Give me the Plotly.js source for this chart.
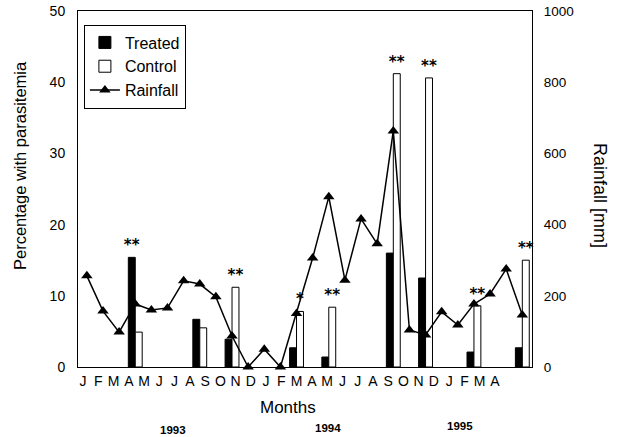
<!DOCTYPE html>
<html>
<head>
<meta charset="utf-8">
<script src="https://cdn.plot.ly/plotly-3.0.1.min.js"></script>
<style>html,body{margin:0;padding:0;background:#fff;}#chart{width:617px;height:437px;}</style>
</head>
<body>
<div id="chart"></div>
<script>
// Categories: months from Jan 1993 to Apr 1995
const periods = ['1993-01','1993-02','1993-03','1993-04','1993-05','1993-06','1993-07','1993-08','1993-09','1993-10','1993-11','1993-12',
                 '1994-01','1994-02','1994-03','1994-04','1994-05','1994-06','1994-07','1994-08','1994-09','1994-10','1994-11','1994-12',
                 '1995-01','1995-02','1995-03','1995-04'];
const monthLabels = ['J','F','M','A','M','J','J','A','S','O','N','D','J','F','M','A','M','J','J','A','S','O','N','D','J','F','M','A'];
const yearLabels = ['1993','1994','1995'];

// Percentage with parasitemia
const treated = [null,null,null,15.4,null,null,null,6.7,null,3.9,null,null,
                 null,2.7,null,1.4,null,null,null,16.0,null,12.5,null,null,
                 2.1,null,null,2.7];
const control = [null,null,null,4.9,null,null,null,5.5,null,11.2,null,null,
                 null,7.8,null,8.4,null,null,null,41.2,null,40.6,null,null,
                 8.6,null,null,15.0];
// Significance marks
const treatedMarks = ['','','','**','','','','','','','','', '','','','','','','','','','','','', '','','',''];
const controlMarks = ['','','','','','','','','','**','','', '','*','','**','','','','**','','**','','', '**','','','**'];
// Rainfall [mm]
const rainfall = [256,157,98,177,160,166,242,233,197,87,0,50,
                  0,150,306,478,244,416,346,663,104,90,155,118,
                  177,205,275,146];

const FONT = 'Liberation Sans, Arial, Helvetica, sans-serif';
const starFont = {family:'DejaVu Sans, Liberation Sans, sans-serif', size:15, weight:'bold', color:'#000000'};

const traces = [
  {type:'bar', name:'Treated', x:periods, y:treated, text:treatedMarks,
   textposition:'outside', constraintext:'none', cliponaxis:false,
   textfont:starFont, outsidetextfont:starFont,
   marker:{color:'#000', line:{color:'#000', width:1}}, xaxis:'x', yaxis:'y'},
  {type:'bar', name:'Control', x:periods, y:control, text:controlMarks,
   textposition:'outside', constraintext:'none', cliponaxis:false,
   textfont:starFont, outsidetextfont:starFont,
   marker:{color:'#fff', line:{color:'#000', width:1}}, xaxis:'x', yaxis:'y'},
  {type:'scatter', mode:'lines+markers', name:'Rainfall', x:periods, y:rainfall,
   line:{color:'#000', width:1.5}, marker:{symbol:'triangle-up', size:10, color:'#000'},
   xaxis:'x', yaxis:'y2', cliponaxis:false},
  // carrier for the month-label axis (draws nothing)
  {type:'scatter', mode:'none', x:periods, y:treated, xaxis:'x2', yaxis:'y',
   showlegend:false, hoverinfo:'skip'}
];

const layout = {
  width:617, height:437,
  margin:{l:78, r:85, t:11, b:70},
  paper_bgcolor:'#fff', plot_bgcolor:'#fff',
  font:{family:FONT, color:'#000'},
  barmode:'group', bargap:0.14, bargroupgap:0,
  showlegend:true,
  legend:{x:0.013, y:0.962, xanchor:'left', yanchor:'top',
          bordercolor:'#000', borderwidth:1, bgcolor:'#fff',
          font:{family:FONT, size:16, color:'#000'}},
  xaxis:{type:'category', categoryarray:periods, range:[-0.55, 27.6],
         showticklabels:false, ticks:'', showgrid:false, zeroline:false,
         showline:true, linecolor:'#000', linewidth:1, mirror:true},
  xaxis2:{type:'category', categoryarray:periods, overlaying:'x', anchor:'y', side:'bottom',
          range:[-0.33, 29.43], tickmode:'array', tickvals:periods, ticktext:monthLabels,
          ticks:'', showgrid:false, zeroline:false, showline:false, ticklabelstandoff:4,
          tickfont:{family:FONT, size:14, color:'#000'}},
  yaxis:{range:[0,50], dtick:10, ticks:'', showgrid:false, zeroline:false,
         showline:true, linecolor:'#000', linewidth:1, mirror:true, ticklabelstandoff:9,
         tickfont:{family:FONT, size:14, color:'#000'}},
  yaxis2:{range:[0,1000], dtick:200, overlaying:'y', side:'right', anchor:'x',
          ticks:'', showgrid:false, zeroline:false, showline:true, linecolor:'#000', linewidth:1,
          ticklabelstandoff:8,
          tickfont:{family:FONT, size:13.5, color:'#000'}},
  annotations:[
    {text:'Percentage with parasitemia', xref:'paper', yref:'paper', x:-0.128, y:0.567, textangle:-90,
     xanchor:'center', yanchor:'middle', showarrow:false, font:{family:FONT, size:16.5, color:'#000'}},
    {text:'Rainfall [mm]', xref:'paper', yref:'paper', x:1.15, y:0.483, textangle:90,
     xanchor:'center', yanchor:'middle', showarrow:false, font:{family:FONT, size:18, color:'#000'}},
    {text:'Months', xref:'paper', yref:'paper', x:0.4626, y:-0.115,
     xanchor:'center', yanchor:'middle', showarrow:false, font:{family:FONT, size:17, color:'#000'}},
    {text:'<b>'+yearLabels[0]+'</b>', xref:'paper', yref:'paper', x:0.209, y:-0.177,
     xanchor:'center', yanchor:'middle', showarrow:false, font:{family:FONT, size:11.5, color:'#000'}},
    {text:'<b>'+yearLabels[1]+'</b>', xref:'paper', yref:'paper', x:0.551, y:-0.171,
     xanchor:'center', yanchor:'middle', showarrow:false, font:{family:FONT, size:11.5, color:'#000'}},
    {text:'<b>'+yearLabels[2]+'</b>', xref:'paper', yref:'paper', x:0.841, y:-0.166,
     xanchor:'center', yanchor:'middle', showarrow:false, font:{family:FONT, size:11.5, color:'#000'}}
  ]
};

Plotly.newPlot('chart', traces, layout, {staticPlot:true, displayModeBar:false});
</script>
</body>
</html>
